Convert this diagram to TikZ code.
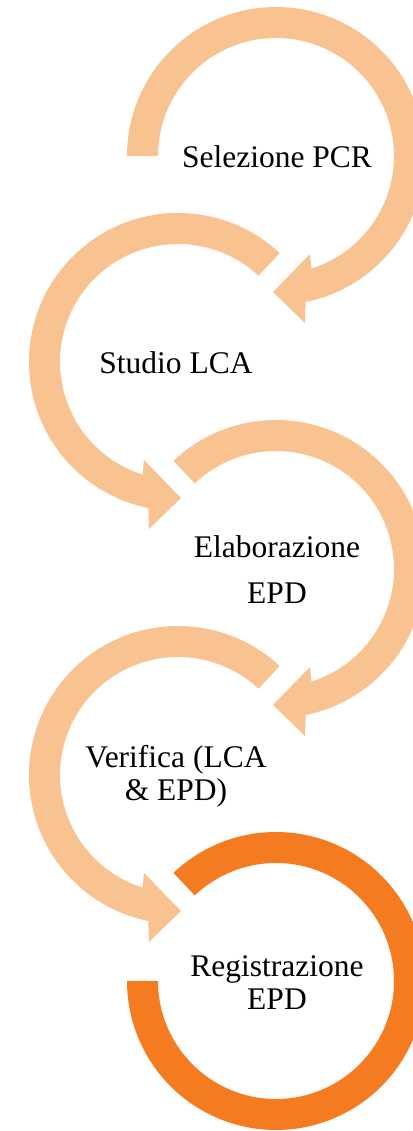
\documentclass[tikz,border=0pt]{standalone}
\usepackage{fontspec}
\setmainfont{Liberation Serif}
\definecolor{lightorange}{HTML}{F9C291}
\definecolor{darkorange}{HTML}{F47B20}
\tikzset{
  lightarc/.style={fill=lightorange, draw=none},
  darkarc/.style={fill=darkorange, draw=none},
  lbl/.style={text=black, align=center, inner sep=0pt,
    font=\fontsize{31.5bp}{33bp}\selectfont},
}
\begin{document}
\begin{tikzpicture}[x=1bp, y=1bp]
\useasboundingbox (0,0) rectangle (412,1131);
% ring 1 (right, starts at 9 o'clock)
\begin{scope}[shift={(276,975)}]
  \fill[lightarc] (180:149) arc[start angle=180, end angle=-78.5, radius=149]
    -- (29,-167) -- (-3,-136) -- (34,-98) -- (-72.5:118)
    arc[start angle=-72.5, end angle=180, radius=118] -- cycle;
\end{scope}
% ring 2 (left)
\begin{scope}[shift={(178,769)}]
  \fill[lightarc] (47:149) arc[start angle=47, end angle=258.5, radius=149]
    -- (-29,-167) -- (3,-136) -- (-34,-98) -- (252.5:118)
    arc[start angle=252.5, end angle=47, radius=118] -- cycle;
\end{scope}
% ring 3 (right)
\begin{scope}[shift={(276,562)}]
  \fill[lightarc] (133.5:149) arc[start angle=133.5, end angle=-78.5, radius=149]
    -- (29,-167) -- (-3,-136) -- (34,-98) -- (-72.5:118)
    arc[start angle=-72.5, end angle=133.5, radius=118] -- cycle;
\end{scope}
% ring 4 (left)
\begin{scope}[shift={(178,356)}]
  \fill[lightarc] (47:149) arc[start angle=47, end angle=258.5, radius=149]
    -- (-29,-167) -- (3,-136) -- (-34,-98) -- (252.5:118)
    arc[start angle=252.5, end angle=47, radius=118] -- cycle;
\end{scope}
% ring 5 (right, final, no arrowhead)
\begin{scope}[shift={(276,150)}]
  \fill[darkarc] (133.5:149) arc[start angle=133.5, end angle=-180, radius=149]
    -- (-180:118) arc[start angle=-180, end angle=133.5, radius=118] -- cycle;
\end{scope}
% labels
\node[lbl] (t1) at (277,974) {Selezione PCR};
\node[lbl] (t2) at (176,768) {Studio LCA};
\node[lbl] (t3) at (277,561) {Elaborazione\\[13bp]EPD};
\node[lbl] (t4) at (176,355) {Verifica (LCA\\ \& EPD)};
\node[lbl] (t5) at (277,148) {Registrazione\\EPD};
\end{tikzpicture}
\end{document}
